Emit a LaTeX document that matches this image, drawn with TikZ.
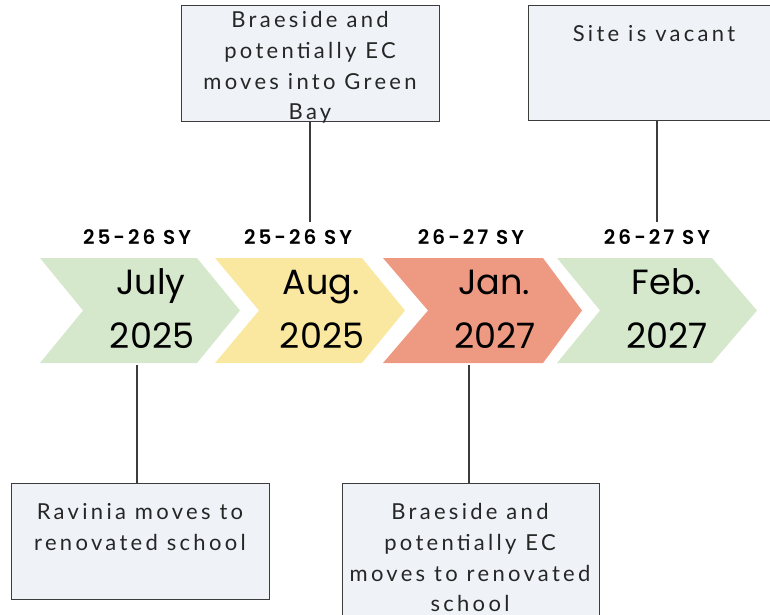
\documentclass[tikz,border=0pt]{standalone}
\usepackage{fontspec}
\usetikzlibrary{calc}
\newfontfamily\boxfont[LetterSpace=15]{Lato}
\newfontfamily\chevfont{Poppins}
\newfontfamily\syfont[LetterSpace=15]{Poppins SemiBold}
\definecolor{cgreen}{RGB}{213,232,204}
\definecolor{cyellow}{RGB}{250,232,160}
\definecolor{csalmon}{RGB}{238,154,130}
\definecolor{boxfill}{RGB}{239,242,247}
\definecolor{boxline}{RGB}{60,60,60}
\newcommand\chevron[5]{%
  \fill[#5] (#1,258) -- (#3,258) -- (#4,310.5) -- (#3,363) -- (#1,363) -- (#2,310.5) -- cycle;}
\begin{document}
\begin{tikzpicture}[x=1pt,y=-1pt,
  evbox/.style={draw=boxline,line width=1.3pt,fill=boxfill,anchor=north west,inner sep=0pt},
  evtext/.style={anchor=north,align=center,font=\boxfont\fontsize{22}{30.8}\selectfont,text=black!85,inner sep=0pt},
  month/.style={font=\chevfont\fontsize{35}{35}\selectfont,anchor=base,inner sep=0pt},
  sy/.style={font=\syfont\fontsize{20}{20}\selectfont,anchor=base,inner sep=0pt},
  conn/.style={draw=boxline,line width=1.3pt}]
\useasboundingbox (0,0) rectangle (770,614);
\clip (0,0) rectangle (770,614);
% chevrons
\chevron{40}{83}{197}{240}{cgreen}
\chevron{215}{259}{362}{405}{cyellow}
\chevron{383}{428}{543}{582}{csalmon}
\chevron{557}{600}{712}{757}{cgreen}
\node[month] (m1) at (151,294) {July};
\node[month] (y1) at (152,348) {2025};
\node[month] (m2) at (321,294) {Aug.};
\node[month] (y2) at (322,348) {2025};
\node[month] (m3) at (494,294) {Jan.};
\node[month] (y3) at (495,348) {2027};
\node[month] (m4) at (667,294) {Feb.};
\node[month] (y4) at (667,348) {2027};
% school-year labels
\node[sy] (s1) at (137,244) {25-26 SY};
\node[sy] (s2) at (298,244) {25-26 SY};
\node[sy] (s3) at (471,244) {26-27 SY};
\node[sy] (s4) at (657,244) {26-27 SY};
% connector ends
\coordinate (c1) at (137,365);
\coordinate (c2) at (310,222);
\coordinate (c3) at (469,365);
\coordinate (c4) at (657,222);
% boxes
\node[evbox,minimum width=258pt,minimum height=116pt] (b2) at (181,5) {};
\node[evtext] (t2) at (310,11) {Braeside and\\potentially EC\\moves into Green\\Bay};
\node[evbox,minimum width=260pt,minimum height=115pt] (b4) at (528,5) {};
\node[evtext] (t4) at (654,25) {Site is vacant};
\node[evbox,minimum width=258pt,minimum height=116pt] (b1) at (11,483) {};
\node[evtext] (t1) at (140,503) {Ravinia moves to\\renovated school};
\node[evbox,minimum width=257pt,minimum height=150pt] (b3) at (342,483) {};
\node[evtext] (t3) at (470,503) {Braeside and\\potentially EC\\moves to renovated\\school};
% connectors
\draw[conn] (b1.north -| c1) -- (c1);
\draw[conn] (b2.south -| c2) -- (c2);
\draw[conn] (b3.north -| c3) -- (c3);
\draw[conn] (b4.south -| c4) -- (c4);
\end{tikzpicture}
\end{document}
